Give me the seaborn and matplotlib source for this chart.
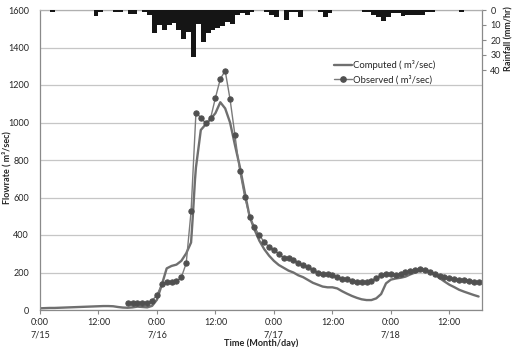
import matplotlib
matplotlib.use("Agg")
import matplotlib.pyplot as plt
from matplotlib.lines import Line2D
import seaborn as sns

sns.set_theme(style="white")
plt.rcParams["font.family"] = ["Lato", "DejaVu Sans"]

# hours counted from 7/15 0:00
RAIN_HOURS = [2, 11, 12, 15, 16, 18, 19, 21, 22, 23, 24, 25, 26, 27, 28, 29, 30,
              31, 32, 33, 34, 35, 36, 37, 38, 39, 40, 41, 42, 43, 46, 47, 48, 50,
              51, 52, 53, 57, 58, 59, 66, 67, 68, 69, 70, 71, 72, 73, 74, 75, 76,
              77, 78, 79, 80, 86]
RAIN_MM = [1.5, 3.8, 1.0, 1.5, 1.5, 2.7, 2.7, 1.0, 3.0, 15.5, 10.0, 13.0, 10.0, 8.5,
           13.0, 19.5, 14.5, 31.5, 9.0, 21.0, 15.0, 13.0, 12.0, 10.5, 8.0, 9.0, 3.5,
           2.0, 3.3, 1.0, 1.5, 3.0, 4.4, 6.7, 1.5, 1.5, 4.4, 1.0, 4.4, 2.2, 1.5, 1.5,
           3.0, 4.4, 7.0, 4.4, 2.2, 2.2, 4.0, 3.0, 3.0, 3.3, 3.3, 1.5, 1.5, 1.5]

COMP_HOURS = list(range(0, 32)) + [31.4, 31.8] + list(range(32, 91))
COMP_FLOW = [9, 10, 11, 11, 12, 13, 14, 15, 16, 17, 18, 19, 20, 21, 21, 20, 16, 13,
             12, 14, 18, 16, 14, 22, 55, 135, 222, 235, 242, 262, 302, 360,
             517, 693,
             760, 960, 990, 1018, 1050, 1108, 1075, 1000, 880, 765, 630, 500, 430,
             370, 325, 290, 262, 240, 225, 210, 200, 185, 175, 160, 145, 135, 125,
             121, 121, 115, 100, 87, 75, 65, 57, 53, 53, 62, 85, 142, 162, 168, 172,
             178, 190, 200, 210, 215, 206, 190, 170, 152, 135, 122, 108, 98, 89, 80, 72]

OBS_HOURS = list(range(18, 91))
OBS_FLOW = [39, 39, 39, 39, 39, 50, 80, 139, 151, 151, 153, 174, 249, 526, 1052,
            1026, 996, 1022, 1132, 1232, 1276, 1124, 933, 740, 604, 498, 444, 398,
            364, 336, 320, 300, 278, 275, 268, 252, 238, 228, 214, 200, 194, 191,
            185, 176, 168, 164, 156, 151, 147, 149, 156, 169, 187, 194, 192, 188,
            192, 201, 208, 213, 217, 213, 204, 192, 181, 174, 169, 164, 160, 160,
            155, 152, 151]

TICK_HOURS = [0, 12, 24, 36, 48, 60, 72, 84]
TICK_LABELS = ["0:00\n7/15", "12:00", "0:00\n7/16", "12:00",
               "0:00\n7/17", "12:00", "0:00\n7/18", "12:00"]

COMP_COLOR = "#6f6f6f"
OBS_COLOR = "#7a7a7a"
MARK_COLOR = "#505050"
AXIS_COLOR = "#8a8a8a"

fig = plt.figure(figsize=(5.14, 3.47), dpi=100)
ax = fig.add_axes([40 / 514, 1 - 310 / 347, 442 / 514, 300 / 347])

sns.lineplot(x=COMP_HOURS, y=COMP_FLOW, ax=ax, color=COMP_COLOR, linewidth=1.7,
             sort=False, legend=False)
sns.lineplot(x=OBS_HOURS, y=OBS_FLOW, ax=ax, color=OBS_COLOR, linewidth=1.0,
             marker="o", markersize=3.8, markerfacecolor=MARK_COLOR,
             markeredgecolor=MARK_COLOR, legend=False)

ax.set_xlim(0, 90.7)
ax.set_ylim(0, 1600)
ax.set_yticks(range(0, 1601, 200))
ax.set_xticks(TICK_HOURS)
ax.set_xticklabels(TICK_LABELS, linespacing=1.4)
ax.yaxis.grid(True, color="#c6c6c6", linewidth=0.9)
ax.tick_params(axis="x", labelsize=6.5, length=3, width=0.8, color=AXIS_COLOR,
               pad=3, direction="out", bottom=True)
ax.tick_params(axis="y", labelsize=6.5, length=0, pad=8)
for side in ["left", "bottom", "right", "top"]:
    ax.spines[side].set_color(AXIS_COLOR)
    ax.spines[side].set_linewidth(0.9)
ax.spines["top"].set_color("#b0b0b0")

ax.set_xlabel("Time (Month/day)", fontsize=6.6, fontweight="bold")
ax.xaxis.set_label_coords(0.5, -0.096)
ax.set_ylabel("Flowrate ( m³/sec)", fontsize=6.5, fontweight="bold")
ax.yaxis.set_label_coords(-0.064, 0.475)

# rainfall hyetograph on inverted secondary axis
ax2 = ax.twinx()
ax2.bar(RAIN_HOURS, RAIN_MM, width=1.0, align="edge", color="#151515", linewidth=0)
ax2.set_ylim(200, 0)
ax2.set_yticks([0, 10, 20, 30, 40])
ax2.tick_params(axis="y", labelsize=6.5, length=3, width=0.8, color=AXIS_COLOR,
                pad=3, direction="out", right=True)
ax2.grid(False)
for side in ["left", "bottom", "right", "top"]:
    ax2.spines[side].set_visible(False)
ax2.set_ylabel("Rainfall (mm/hr)", fontsize=6.5, fontweight="bold")
ax2.yaxis.set_label_coords(1.05, 0.905)
ax2.set_xlim(0, 90.7)

handles = [
    Line2D([], [], color=COMP_COLOR, linewidth=1.7),
    Line2D([], [], color=OBS_COLOR, linewidth=1.0, marker="o", markersize=3.8,
           markerfacecolor=MARK_COLOR, markeredgecolor=MARK_COLOR),
]
ax2.legend(handles, ["Computed ( m³/sec)", "Observed ( m³/sec)"],
           loc="upper left", bbox_to_anchor=(0.66, 0.84), frameon=False,
           fontsize=6.8, handlelength=1.9, handletextpad=0.2, labelspacing=0.55,
           borderaxespad=0, borderpad=0.2)

fig.savefig("out.png", dpi=100)
